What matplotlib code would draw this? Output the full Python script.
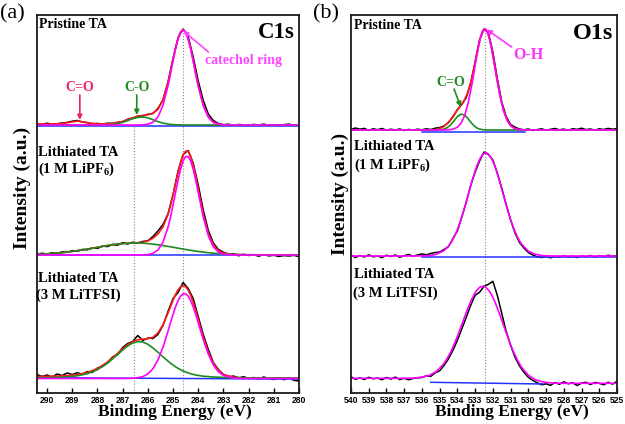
import numpy as np
import matplotlib
matplotlib.use('Agg')
import matplotlib.pyplot as plt

plt.rcParams['font.family'] = ['Liberation Serif', 'DejaVu Serif']
plt.rcParams['mathtext.fontset'] = 'custom'
plt.rcParams['mathtext.rm'] = 'Liberation Serif:bold'
plt.rcParams['mathtext.it'] = 'Liberation Serif:bold'
plt.rcParams['mathtext.bf'] = 'Liberation Serif:bold'

# ---------------- C1s (panel a) ----------------
c1s_be = [290.4, 290.2, 290.0, 289.8, 289.6, 289.4, 289.2, 289.0, 288.8, 288.6,
          288.4, 288.2, 288.0, 287.8, 287.6, 287.4, 287.2, 287.0, 286.8, 286.6,
          286.4, 286.2, 286.0, 285.8, 285.6, 285.4, 285.2, 285.0, 284.8, 284.6,
          284.4, 284.2, 284.0, 283.8, 283.6, 283.4, 283.2, 283.0, 282.8, 282.6,
          282.4, 282.2, 282.0, 281.8, 281.6, 281.4, 281.2, 281.0, 280.8, 280.6,
          280.4, 280.2, 280.0]
c1s_pristine = [1.5, 0.5, 1.8, 0.8, 1.2, 2.0, 2.6, 3.8, 4.5, 3.0,
                2.4, 1.0, 1.6, 0.9, 1.8, 1.5, 2.8, 3.2, 5.8, 6.9,
                9.0, 8.8, 10.8, 11.5, 16.5, 25.0, 43.0, 66.5, 87.5, 96.0,
                88.5, 68.0, 44.0, 24.5, 11.0, 4.5, 1.5, 0.3, 0.8, -0.3,
                0.5, 0.2, -0.5, 0.6, 0.0, 0.8, -0.2, 0.3, -0.6, 0.4,
                0.9, -0.3, 0.2]
c1s_lipf6 = [0.5, 1.8, 0.9, 2.2, 1.5, 3.2, 2.6, 4.4, 3.8, 5.6,
             5.2, 7.0, 6.6, 8.9, 8.4, 10.6, 9.8, 12.4, 11.0, 12.8,
             12.0, 13.6, 14.2, 18.5, 24.0, 30.5, 41.0, 60.5, 84.0, 100.5,
             104.5, 92.0, 70.0, 45.0, 24.5, 12.0, 5.5, 2.8, 0.6, 1.4,
             -0.8, 0.7, -0.5, 0.2, -1.2, 0.4, -0.9, -0.3, -1.4, -0.6,
             -1.0, -0.4, -1.6]
c1s_litfsi = [4.0, 2.0, 3.5, 1.5, 4.5, 3.0, 5.5, 4.0, 5.8, 4.2,
              7.0, 6.0, 10.5, 12.0, 16.0, 21.5, 24.0, 31.0, 35.0, 37.0,
              43.0, 38.0, 40.5, 40.0, 44.0, 53.0, 67.0, 80.0, 86.0, 96.0,
              90.0, 80.0, 62.0, 44.0, 29.0, 16.0, 9.0, 4.0, 1.5, 2.5,
              0.5, 1.8, 0.0, 1.0, -0.5, 1.5, 0.0, -1.0, 0.8, -1.2,
              0.5, -1.8, -2.5]

c1s_fit_be = [290.4, 290.0, 289.6, 289.2, 288.8, 288.4, 288.0, 287.6, 287.2,
              287.0, 286.8, 286.6, 286.4, 286.2, 286.0, 285.8, 285.6, 285.4, 285.2,
              285.1, 285.0, 284.9, 284.8, 284.7, 284.6, 284.5, 284.4, 284.3, 284.2,
              284.1, 284.0, 283.8, 283.6, 283.4, 283.2, 283.0,
              282.6, 282.2, 281.8, 281.4, 281.0, 280.5, 280.0]
c1s_pristine_env = [1.0, 1.0, 1.1, 2.2, 4.0, 2.2, 1.1, 1.2, 2.3,
                    3.6, 5.4, 7.2, 8.6, 9.6, 10.2, 11.8, 15.6, 25.1, 42.6,
                    53.8, 65.9, 77.3, 86.7, 93.2, 95.3, 93.0, 86.3, 76.3, 64.2,
                    51.3, 39.2, 19.6, 8.0, 2.7, 0.8, 0.2,
                    0, 0, 0, 0, 0, 0, 0]
c1s_pristine_ring = [0, 0, 0, 0, 0, 0, 0, 0, 0,
                     0, 0, 0, 0, 0.2, 0.8, 2.7, 8.0, 19.6, 39.1,
                     51.2, 64.0, 76.1, 86.1, 92.7, 95.0, 92.7, 86.1, 76.1, 64.0,
                     51.2, 39.1, 19.6, 8.0, 2.7, 0.8, 0.2,
                     0, 0, 0, 0, 0, 0, 0]
c1s_pristine_co = [0, 0, 0, 0, 0, 0, 0, 0.2, 1.3,
                   2.6, 4.4, 6.3, 7.6, 8.0, 7.1, 5.3, 3.4, 1.9, 0.9,
                   0.6, 0.4, 0.25, 0.15, 0.1, 0.05, 0, 0, 0, 0,
                   0, 0, 0, 0, 0, 0, 0,
                   0, 0, 0, 0, 0, 0, 0]
c1s_lipf6_env = [0.6, 1.1, 1.8, 2.9, 4.3, 5.9, 7.7, 9.5, 10.9,
                 11.4, 11.8, 12.0, 12.3, 12.7, 14.0, 16.7, 21.0, 28.1, 40.5,
                 49.3, 59.8, 71.3, 82.6, 92.7, 100.2, 103.9, 103.5, 98.8, 90.2,
                 78.9, 66.1, 40.9, 21.6, 10.0, 4.3, 2.0,
                 0.6, 0.3, 0.2, 0.1, 0, 0, 0]
c1s_lipf6_ring = [0, 0, 0, 0, 0, 0, 0, 0, 0,
                  0, 0, 0, 0, 0.1, 0.4, 1.6, 5.0, 12.8, 27.7,
                  38.0, 49.9, 62.6, 75.0, 85.9, 94.1, 98.4, 98.4, 94.1, 85.9,
                  75.0, 62.6, 38.0, 19.3, 8.2, 2.9, 0.9,
                  0, 0, 0, 0, 0, 0, 0]
c1s_lipf6_co = [0.6, 1.1, 1.8, 2.9, 4.3, 5.9, 7.7, 9.5, 10.9,
                11.4, 11.8, 12.0, 12.0, 11.8, 11.4, 10.9, 10.2, 9.5, 8.6,
                8.2, 7.7, 7.3, 6.8, 6.4, 5.9, 5.5, 5.1, 4.7, 4.3,
                3.9, 3.5, 2.9, 2.3, 1.8, 1.4, 1.1,
                0.6, 0.3, 0.2, 0.1, 0, 0, 0]
c1s_litfsi_env = [2.0, 2.1, 2.4, 2.9, 3.9, 6.0, 10.0, 16.5, 25.2,
                  29.7, 33.8, 36.9, 38.7, 39.4, 39.8, 41.2, 45.6, 53.7, 65.5,
                  71.8, 78.4, 84.1, 88.7, 91.8, 92.8, 91.7, 88.5, 83.2, 76.2,
                  68.1, 59.3, 41.5, 26.4, 15.2, 8.2, 4.1,
                  1.3, 0.7, 0.6, 0.5, 0.45, 0.4, 0.33]
c1s_litfsi_ring = [0, 0, 0, 0, 0, 0, 0, 0, 0,
                   0, 0.1, 0.25, 0.7, 1.9, 4.6, 9.7, 18.4, 31.2, 47.3,
                   55.8, 64.2, 71.7, 77.9, 82.4, 84.7, 84.7, 82.4, 77.9, 71.7,
                   64.2, 55.8, 38.9, 24.3, 13.5, 6.8, 3.0,
                   0.4, 0, 0, 0, 0, 0, 0]
c1s_litfsi_co = [0.8, 0.9, 1.2, 1.7, 2.7, 4.8, 8.8, 15.3, 24.0,
                 28.5, 32.6, 35.5, 37.0, 36.5, 34.2, 30.6, 26.3, 21.7, 17.4,
                 15.3, 13.5, 11.7, 10.2, 8.8, 7.5, 6.5, 5.6, 4.8, 4.1,
                 3.5, 3.1, 2.3, 1.9, 1.5, 1.3, 1.1,
                 0.9, 0.7, 0.6, 0.5, 0.45, 0.4, 0.33]
c1s_base_be = [290.4, 280.0]
c1s_base = [[-1.0, -1.0], [-0.3, -0.3], [0.8, -0.6]]

# ---------------- O1s (panel b) ----------------
o1s_be = [540.00, 539.75, 539.50, 539.25, 539.00, 538.75, 538.50, 538.25, 538.00, 537.75,
          537.50, 537.25, 537.00, 536.75, 536.50, 536.25, 536.00, 535.75, 535.50, 535.25,
          535.00, 534.75, 534.50, 534.25, 534.00, 533.75, 533.50, 533.25, 533.00, 532.75,
          532.50, 532.25, 532.00, 531.75, 531.50, 531.25, 531.00, 530.75, 530.50, 530.25,
          530.00, 529.75, 529.50, 529.25, 529.00, 528.75, 528.50, 528.25, 528.00, 527.75,
          527.50, 527.25, 527.00, 526.75, 526.50, 526.25, 526.00, 525.75, 525.50, 525.25,
          525.00]
o1s_pristine = [0.5, 2.0, 0.8, 1.6, -0.4, 1.2, 0.3, 1.5, -0.2, 0.8,
                0.0, 1.0, -0.5, 0.6, -0.3, 0.8, 0.2, 1.2, 0.5, 1.8,
                2.5, 4.0, 7.5, 13.0, 20.5, 25.5, 32.5, 47.0, 68.0, 90.0,
                101.0, 97.0, 78.0, 51.5, 28.0, 13.5, 5.5, 2.8, 1.0, 0.2,
                1.0, -0.5, 0.4, 1.2, -0.3, 0.7, 1.5, 0.2, 0.9, -0.4,
                1.3, 0.6, 1.8, 0.4, 1.0, -0.2, 1.2, 0.5, 1.6, 0.8,
                1.4]
o1s_lipf6 = [1.0, -1.5, 0.5, -1.0, 1.2, -0.8, 0.0, -1.6, 0.8, -0.5,
             1.0, -1.2, 0.3, 1.5, -0.2, 1.0, 2.0, 1.2, 2.5, 3.5,
             4.0, 6.5, 9.5, 17.5, 25.0, 39.0, 54.0, 70.5, 84.0, 95.0,
             104.0, 101.5, 96.0, 83.0, 68.0, 51.5, 36.0, 23.0, 13.5, 8.0,
             3.5, 1.0, -0.8, -1.5, -0.6, -1.8, -0.5, -1.2, 0.2, -1.0,
             -0.3, -1.5, 0.0, -0.8, 0.5, -1.0, 0.2, -0.6, 0.8, -0.4,
             0.5]
o1s_litfsi = [6.5, 4.0, 5.5, 3.8, 6.0, 4.5, 5.2, 3.5, 5.8, 4.2,
              6.2, 3.8, 5.0, 3.5, 4.8, 5.5, 5.8, 7.5, 7.0, 10.5,
              12.5, 18.0, 24.5, 33.0, 43.0, 54.5, 66.0, 78.0, 88.0, 91.0,
              97.0, 99.0, 102.0, 88.0, 70.0, 52.0, 38.0, 26.0, 17.5, 11.0,
              6.0, 3.0, 0.5, -1.5, -0.5, -2.0, 0.8, -1.0, 1.5, -0.5,
              0.5, -2.2, 0.2, 1.0, -1.2, 0.8, 0.0, -1.5, 1.0, -0.8,
              2.0]

o1s_fit_be = [540.0, 539.5, 539.0, 538.5, 538.0, 537.5, 537.0, 536.5, 536.0,
              535.6, 535.2,
              534.8, 534.6, 534.4, 534.2, 534.0, 533.8, 533.6, 533.4, 533.2,
              533.0, 532.9, 532.8, 532.7, 532.6, 532.5, 532.4, 532.3, 532.2, 532.1,
              532.0, 531.9, 531.8,
              531.6, 531.4, 531.2, 531.0, 530.8, 530.6, 530.4,
              530.0, 529.6, 529.2, 528.8, 528.4, 528.0,
              527.5, 527.0, 526.5, 526.0, 525.5, 525.0]
o1s_pristine_env = [0, 0, 0, 0, 0, 0, 0, 0, 0,
                    0, 0.45,
                    3.0, 6.0, 10.0, 15.0, 20.0, 24.9, 30.2, 38.1, 50.7,
                    67.7, 76.8, 85.4, 92.7, 98.1, 100.8, 100.7, 97.7, 92.0, 84.2,
                    74.7, 64.4, 53.9,
                    34.5, 19.6, 9.9, 4.4, 1.8, 0.6, 0.2,
                    0, 0, 0, 0, 0, 0,
                    0, 0, 0, 0, 0, 0]
o1s_pristine_oh = [0, 0, 0, 0, 0, 0, 0, 0, 0,
                   0, 0,
                   0, 0.1, 0.35, 1.1, 2.8, 6.7, 14.1, 26.4, 43.8,
                   64.4, 74.7, 84.2, 92.0, 97.7, 100.6, 100.6, 97.7, 92.0, 84.2,
                   74.7, 64.4, 53.9,
                   34.5, 19.6, 9.9, 4.4, 1.8, 0.6, 0.2,
                   0, 0, 0, 0, 0, 0,
                   0, 0, 0, 0, 0, 0]
o1s_pristine_co = [0, 0, 0, 0, 0, 0, 0, 0, 0,
                   0, 0.05,
                   0.7, 2.1, 4.8, 9.0, 13.4, 15.9, 15.0, 11.3, 6.8,
                   3.3, 2.1, 1.2, 0.7, 0.4, 0.2, 0.1, 0, 0, 0,
                   0, 0, 0,
                   0, 0, 0, 0, 0, 0, 0,
                   0, 0, 0, 0, 0, 0,
                   0, 0, 0, 0, 0, 0]
o1s_lipf6_fit = [0, 0, 0, 0, 0, 0, 0, 0, 0.1,
                 0.45, 1.6,
                 4.8, 7.9, 12.3, 18.4, 26.4, 36.4, 47.9, 60.5, 73.3,
                 85.1, 90.2, 94.6, 98.2, 100.8, 102.5, 103.0, 102.5, 100.8, 98.2,
                 94.6, 90.2, 85.1,
                 73.3, 60.5, 47.9, 36.4, 26.4, 18.4, 12.3,
                 4.8, 1.6, 0.45, 0.1, 0, 0,
                 0, 0, 0, 0, 0, 0]
o1s_litfsi_fit = [5.0, 5.0, 5.0, 5.0, 5.0, 5.0, 5.0, 5.2, 6.1,
                  7.8, 11.6,
                  18.8, 24.1, 30.5, 38.3, 47.0, 56.4, 66.1, 75.5, 83.9,
                  90.6, 93.2, 95.1, 96.4, 96.9, 96.8, 95.9, 94.4, 92.1, 89.3,
                  85.9, 82.0, 77.7,
                  68.2, 58.1, 48.1, 38.6, 30.0, 22.7, 16.5,
                  8.1, 3.5, 1.4, 0.5, 0.1, 0,
                  0, 0, 0, 0, 0, 0]
o1s_base_be = [[536.0, 530.2], [536.0, 525.0], [535.5, 529.2]]
o1s_base = [[-2.0, -2.0], [-0.7, -0.7], [1.0, -0.7]]

# stacking offsets (layout, in the same arbitrary units)
c1s_offsets = [268, 138, 14.5]
o1s_offsets = [263, 137, 9.7]

BLACK = '#000000'
RED = '#ff1a1a'
GREEN = '#1f8a1f'
MAGENTA = '#ff00ff'
BLUE = '#2233ff'

fig = plt.figure(figsize=(6.25, 4.24), dpi=100)
ax1 = fig.add_axes([37 / 625, 31 / 424, 262 / 625, 378 / 424])
ax2 = fig.add_axes([351 / 625, 31 / 424, 266 / 625, 378 / 424])


def style_axes(ax, xlim, ticks):
    ax.set_xlim(*xlim)
    ax.set_ylim(0, 378)
    ax.set_xticks(ticks)
    ax.set_yticks([])
    ax.tick_params(axis='x', direction='in', length=3.5, width=1, pad=2.5,
                   labelsize=6.2)
    for lab in ax.get_xticklabels():
        lab.set_fontfamily('Liberation Sans')
        lab.set_fontweight('bold')
    for sp in ax.spines.values():
        sp.set_linewidth(1.3)
        sp.set_color('#1a1a1a')


def shift(vals, off):
    return np.asarray(vals, dtype=float) + off


# ---- panel (a) C1s ----
o = c1s_offsets
ax1.vlines(286.55, 0, o[0], colors='#888888', linestyles=':', lw=0.8)
ax1.vlines(284.62, 0, 362, colors='#888888', linestyles=':', lw=0.8)

datasets = [c1s_pristine, c1s_lipf6, c1s_litfsi]
envs = [c1s_pristine_env, c1s_lipf6_env, c1s_litfsi_env]
rings = [c1s_pristine_ring, c1s_lipf6_ring, c1s_litfsi_ring]
cos = [c1s_pristine_co, c1s_lipf6_co, c1s_litfsi_co]
for i in range(3):
    ax1.plot(c1s_be, shift(datasets[i], o[i]), color=BLACK, lw=1.1)
    ax1.plot(c1s_base_be, shift(c1s_base[i], o[i]), color=BLUE, lw=1.1)
    ax1.plot(c1s_fit_be, shift(envs[i], o[i]), color=RED, lw=1.2)
    ax1.plot(c1s_fit_be, shift(cos[i], o[i]), color=GREEN, lw=1.2)
    ax1.plot(c1s_fit_be, shift(rings[i], o[i]), color=MAGENTA, lw=1.2)

style_axes(ax1, (290.4, 280.0), list(range(290, 279, -1)))

ax1.text(0.008, 0.975, 'Pristine TA', transform=ax1.transAxes, ha='left',
         va='center', fontsize=10, fontweight='bold')
ax1.text(0.985, 0.955, 'C1s', transform=ax1.transAxes, ha='right',
         va='center', fontsize=16.5, fontweight='bold')
ax1.text(0.003, 0.636, 'Lithiated TA', transform=ax1.transAxes, ha='left',
         va='center', fontsize=10.5, fontweight='bold')
ax1.text(0.003, 0.591, '(1 M LiPF$_6$)', transform=ax1.transAxes, ha='left',
         va='center', fontsize=10.5, fontweight='bold')
ax1.text(0.003, 0.304, 'Lithiated TA', transform=ax1.transAxes, ha='left',
         va='center', fontsize=10.5, fontweight='bold')
ax1.text(-0.004, 0.259, '(3 M LiTFSI)', transform=ax1.transAxes, ha='left',
         va='center', fontsize=10.5, fontweight='bold')

arrow = dict(arrowstyle='-|>', lw=1.2, mutation_scale=7, shrinkA=0, shrinkB=0)
ax1.text(288.70, 306, 'C=O', color='#ee2266', ha='center', va='center',
         fontsize=10, fontweight='bold')
ax1.annotate('', xy=(288.70, 273), xytext=(288.70, 298),
             arrowprops=dict(arrow, color='#ee2266'))
ax1.text(286.44, 306, 'C-O', color=GREEN, ha='center', va='center',
         fontsize=10, fontweight='bold')
ax1.annotate('', xy=(286.44, 278), xytext=(286.44, 298),
             arrowprops=dict(arrow, color=GREEN))
ax1.text(282.22, 333, 'catechol ring', color='#ff44ff', ha='center',
         va='center', fontsize=10, fontweight='bold')
ax1.annotate('', xy=(284.59, 362), xytext=(283.59, 341),
             arrowprops=dict(arrow, color='#ff44ff'))

# ---- panel (b) O1s ----
o = o1s_offsets
ax2.vlines(532.45, 0, 364, colors='#888888', linestyles=':', lw=0.8)

o1s_data = [o1s_pristine, o1s_lipf6, o1s_litfsi]
for i in range(3):
    ax2.plot(o1s_be, shift(o1s_data[i], o[i]), color=BLACK, lw=1.1)
    ax2.plot(o1s_base_be[i], shift(o1s_base[i], o[i]), color=BLUE, lw=1.1)
ax2.plot(o1s_fit_be, shift(o1s_pristine_env, o[0]), color=RED, lw=1.2)
ax2.plot(o1s_fit_be, shift(o1s_pristine_co, o[0]), color=GREEN, lw=1.2)
ax2.plot(o1s_fit_be, shift(o1s_pristine_oh, o[0]), color=MAGENTA, lw=1.2)
ax2.plot(o1s_fit_be, shift(o1s_lipf6_fit, o[1]), color=MAGENTA, lw=1.2)
ax2.plot(o1s_fit_be, shift(o1s_litfsi_fit, o[2]), color=MAGENTA, lw=1.2)

style_axes(ax2, (540, 525), list(range(540, 524, -1)))

ax2.text(0.01, 0.973, 'Pristine TA', transform=ax2.transAxes, ha='left',
         va='center', fontsize=10, fontweight='bold')
ax2.text(0.985, 0.951, 'O1s', transform=ax2.transAxes, ha='right',
         va='center', fontsize=17.5, fontweight='bold')
ax2.text(0.01, 0.652, 'Lithiated TA', transform=ax2.transAxes, ha='left',
         va='center', fontsize=10.5, fontweight='bold')
ax2.text(0.01, 0.601, '(1 M LiPF$_6$)', transform=ax2.transAxes, ha='left',
         va='center', fontsize=10.5, fontweight='bold')
ax2.text(0.012, 0.314, 'Lithiated TA', transform=ax2.transAxes, ha='left',
         va='center', fontsize=10.5, fontweight='bold')
ax2.text(0.008, 0.264, '(3 M LiTFSI)', transform=ax2.transAxes, ha='left',
         va='center', fontsize=10.5, fontweight='bold')

ax2.text(530.0, 338, 'O-H', color='#ff33ff', ha='center', va='center',
         fontsize=11.5, fontweight='bold')
ax2.annotate('', xy=(532.35, 363.5), xytext=(530.94, 346),
             arrowprops=dict(arrow, color='#ff33ff'))
ax2.text(534.38, 311, 'C=O', color=GREEN, ha='center', va='center',
         fontsize=10, fontweight='bold')
ax2.annotate('', xy=(533.81, 286), xytext=(534.19, 304),
             arrowprops=dict(arrow, color=GREEN))

# ---- figure labels ----
fig.text(12 / 625, 1 - 14 / 424, '(a)', ha='center', va='center', fontsize=16)
fig.text(326 / 625, 1 - 14 / 424, '(b)', ha='center', va='center', fontsize=16)
fig.text(22 / 625, 1 - 188 / 424, 'Intensity (a.u.)', rotation=90,
         ha='center', va='center', fontsize=14, fontweight='bold')
fig.text(340 / 625, 1 - 194 / 424, 'Intensity (a.u.)', rotation=90,
         ha='center', va='center', fontsize=14, fontweight='bold')
fig.text(175 / 625, 1 - 412 / 424, 'Binding Energy (eV)', ha='center',
         va='center', fontsize=12.5, fontweight='bold')
fig.text(512 / 625, 1 - 412 / 424, 'Binding Energy (eV)', ha='center',
         va='center', fontsize=12.5, fontweight='bold')

fig.savefig('out.png', dpi=100)
